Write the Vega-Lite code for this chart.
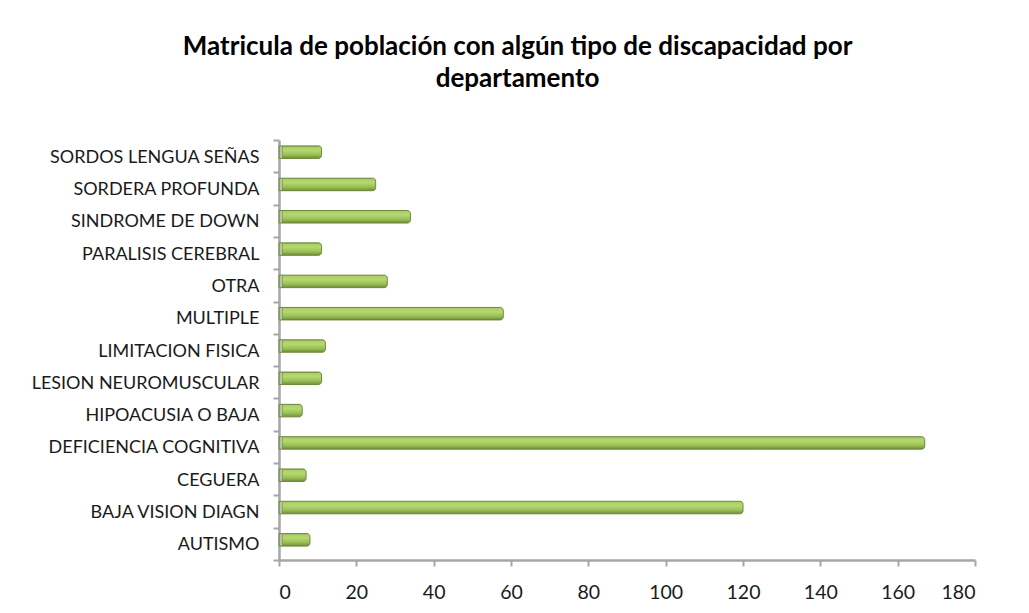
{
  "$schema": "https://vega.github.io/schema/vega-lite/v6.json",
  "width": 696,
  "height": 420,
  "autosize": {"type": "none"},
  "padding": {"left": 279, "top": 140, "right": 54, "bottom": 53},
  "background": "white",
  "title": {
    "text": ["Matricula de población con algún tipo de discapacidad por", "departamento"],
    "font": "Lato",
    "fontSize": 26,
    "fontWeight": "bold",
    "color": "#000000",
    "anchor": "middle",
    "frame": "bounds",
    "dx": 14,
    "offset": 39,
    "lineHeight": 32
  },
  "data": {
    "values": [
      {"tipo": "SORDOS LENGUA SEÑAS", "matricula": 11},
      {"tipo": "SORDERA PROFUNDA", "matricula": 25},
      {"tipo": "SINDROME DE DOWN", "matricula": 34},
      {"tipo": "PARALISIS CEREBRAL", "matricula": 11},
      {"tipo": "OTRA", "matricula": 28},
      {"tipo": "MULTIPLE", "matricula": 58},
      {"tipo": "LIMITACION FISICA", "matricula": 12},
      {"tipo": "LESION NEUROMUSCULAR", "matricula": 11},
      {"tipo": "HIPOACUSIA O BAJA", "matricula": 6},
      {"tipo": "DEFICIENCIA COGNITIVA", "matricula": 167},
      {"tipo": "CEGUERA", "matricula": 7},
      {"tipo": "BAJA VISION DIAGN", "matricula": 120},
      {"tipo": "AUTISMO", "matricula": 8}
    ]
  },
  "mark": {
    "type": "bar",
    "size": 12.5,
    "yOffset": -4,
    "xOffset": 3,
    "x2Offset": 3,
    "cornerRadiusEnd": 3,
    "stroke": "#6E8A3A",
    "strokeWidth": 1,
    "color": {
      "gradient": "linear",
      "x1": 0, "y1": 0, "x2": 0, "y2": 1,
      "stops": [
        {"offset": 0, "color": "#A9CB63"},
        {"offset": 0.35, "color": "#B5D870"},
        {"offset": 0.7, "color": "#9BBF57"},
        {"offset": 1, "color": "#6F8F36"}
      ]
    }
  },
  "encoding": {
    "y": {
      "field": "tipo",
      "type": "nominal",
      "sort": ["SORDOS LENGUA SEÑAS", "SORDERA PROFUNDA", "SINDROME DE DOWN", "PARALISIS CEREBRAL", "OTRA", "MULTIPLE", "LIMITACION FISICA", "LESION NEUROMUSCULAR", "HIPOACUSIA O BAJA", "DEFICIENCIA COGNITIVA", "CEGUERA", "BAJA VISION DIAGN", "AUTISMO"],
      "scale": {"paddingInner": 0, "paddingOuter": 0},
      "axis": {
        "title": null,
        "tickBand": "extent",
        "domainColor": "#A6A6A6",
        "domainWidth": 2.5,
        "tickColor": "#A6A6A6",
        "tickWidth": 2,
        "tickSize": 6,
        "labelFont": "Lato",
        "labelFontSize": 18,
        "labelColor": "#1A1A1A",
        "labelPadding": 14,
        "labelOffset": 1,
        "labelLimit": 400
      }
    },
    "x": {
      "field": "matricula",
      "type": "quantitative",
      "scale": {"domain": [0, 180], "nice": false},
      "axis": {
        "title": null,
        "values": [0, 20, 40, 60, 80, 100, 120, 140, 160, 180],
        "grid": false,
        "domainColor": "#A6A6A6",
        "domainWidth": 2.5,
        "tickColor": "#A6A6A6",
        "tickWidth": 2,
        "tickSize": 6,
        "labelFont": "Lato",
        "labelFontSize": 19.5,
        "labelColor": "#1A1A1A",
        "labelPadding": 17
      }
    }
  },
  "config": {
    "view": {"stroke": null}
  }
}
